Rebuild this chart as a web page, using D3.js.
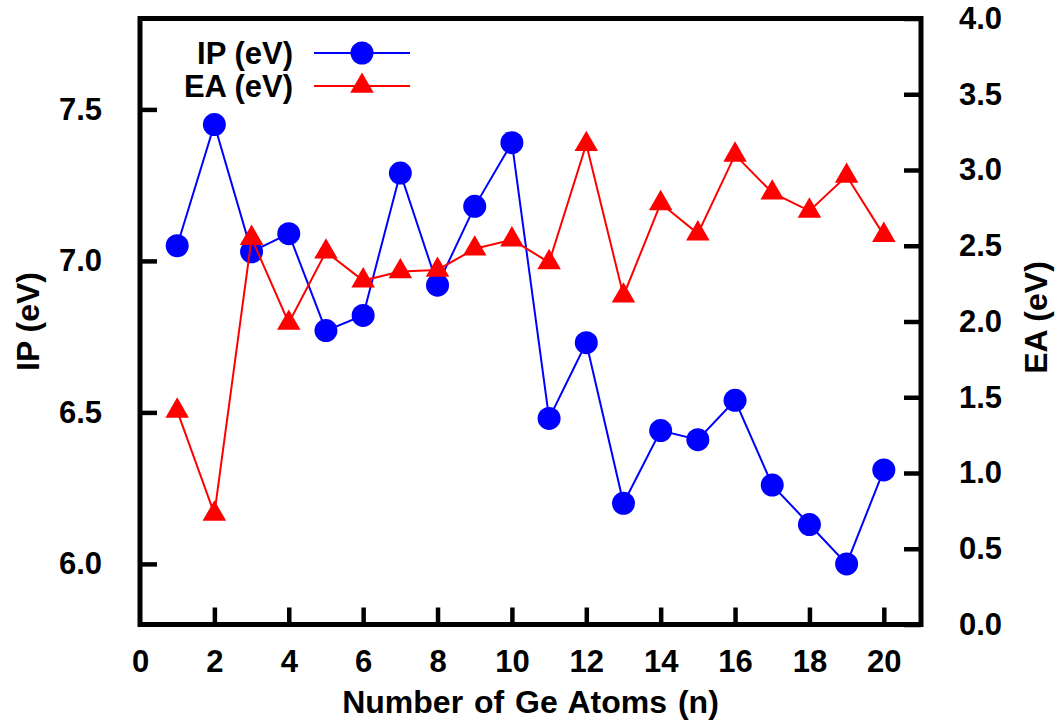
<!DOCTYPE html>
<html>
<head>
<meta charset="utf-8">
<script src="https://cdn.jsdelivr.net/npm/d3@7"></script>
<style>
  html, body { margin: 0; padding: 0; background: #fff; }
  svg text { font-family: "Liberation Sans", Arial, Helvetica, sans-serif; font-weight: bold; fill: #000; }
</style>
</head>
<body>
<svg id="chart" width="1055" height="725"></svg>
<script>
// Cluster size n (number of Ge atoms)
const atoms = [1, 2, 3, 4, 5, 6, 7, 8, 9, 10, 11, 12, 13, 14, 15, 16, 17, 18, 19, 20];
// Ionization potential (eV), left axis
const ipValues = [7.05, 7.45, 7.03, 7.09, 6.77, 6.82, 7.29, 6.92, 7.18, 7.39,
                  6.48, 6.73, 6.20, 6.44, 6.41, 6.54, 6.26, 6.13, 6.00, 6.31];
// Electron affinity (eV), right axis
const eaValues = [1.41, 0.73, 2.55, 1.99, 2.46, 2.27, 2.33, 2.34, 2.48, 2.54,
                  2.39, 3.17, 2.17, 2.78, 2.58, 3.10, 2.85, 2.73, 2.96, 2.57];

const xTicks = [0, 2, 4, 6, 8, 10, 12, 14, 16, 18, 20];
const ipTicks = [6.0, 6.5, 7.0, 7.5];
const eaTicks = [0.0, 0.5, 1.0, 1.5, 2.0, 2.5, 3.0, 3.5, 4.0];

const svg = d3.select("#chart");
const plotLeft = 140, plotRight = 921, plotTop = 18.5, plotBottom = 624.5;

const x = d3.scaleLinear().domain([0, 21]).range([plotLeft, plotRight]);
const yIP = d3.scaleLinear().domain([5.8, 7.8]).range([plotBottom, plotTop]);
const yEA = d3.scaleLinear().domain([0, 4]).range([plotBottom, plotTop]);

const fontSize = 31;
const tickLen = 17;

// Bottom axis: inward ticks, labels below
const xAxis = d3.axisBottom(x).tickValues(xTicks).tickSizeInner(-tickLen).tickSizeOuter(0)
  .tickPadding(tickLen + 8).tickFormat(d3.format("d"));
const gx = svg.append("g").attr("transform", `translate(0,${plotBottom})`).call(xAxis);
gx.selectAll(".tick line").filter(d => d === 0).remove();

// Left axis (IP)
const yAxisL = d3.axisLeft(yIP).tickValues(ipTicks).tickSizeInner(-tickLen).tickSizeOuter(0)
  .tickPadding(tickLen + 21).tickFormat(d3.format(".1f"));
const gl = svg.append("g").attr("transform", `translate(${plotLeft},0)`).call(yAxisL);

// Right axis (EA)
const yAxisR = d3.axisRight(yEA).tickValues(eaTicks).tickSizeInner(-tickLen).tickSizeOuter(0)
  .tickPadding(tickLen + 21).tickFormat(d3.format(".1f"));
const gr = svg.append("g").attr("transform", `translate(${plotRight},0)`).call(yAxisR);

[gx, gl, gr].forEach(g => {
  g.select(".domain").remove();
  g.selectAll(".tick line").attr("stroke", "#000").attr("stroke-width", 4.5);
  g.selectAll(".tick text").attr("font-size", fontSize).attr("fill", "#000")
    .style("font-family", "'Liberation Sans', Arial, sans-serif").style("font-weight", "bold");
});
gx.selectAll(".tick text").attr("dy", "0.71em");

// Frame
svg.append("rect")
  .attr("x", plotLeft).attr("y", plotTop)
  .attr("width", plotRight - plotLeft).attr("height", plotBottom - plotTop)
  .attr("fill", "none").attr("stroke", "#000").attr("stroke-width", 5);

// Axis titles
const titleSize = 32;
svg.append("text")
  .attr("x", (plotLeft + plotRight) / 2).attr("y", 713)
  .attr("text-anchor", "middle").attr("font-size", titleSize)
  .style("word-spacing", "2px")
  .text("Number of Ge Atoms (n)");

svg.append("text")
  .attr("transform", `translate(39,${(plotTop + plotBottom) / 2}) rotate(-90)`)
  .attr("text-anchor", "middle").attr("font-size", titleSize)
  .text("IP (eV)");

svg.append("text")
  .attr("transform", `translate(1047,${(plotTop + plotBottom) / 2 - 4}) rotate(-90)`)
  .attr("text-anchor", "middle").attr("font-size", titleSize)
  .text("EA (eV)");

const ipData = atoms.map((n, i) => ({ n, v: ipValues[i] }));
const eaData = atoms.map((n, i) => ({ n, v: eaValues[i] }));

const blue = "#0000ff", red = "#ff0000";
const circleR = 11.5;
const triSym = d3.symbol().type(d3.symbolTriangle).size(240);

// IP series: line + filled circles
svg.append("path").datum(ipData)
  .attr("fill", "none").attr("stroke", blue).attr("stroke-width", 2)
  .attr("d", d3.line().x(d => x(d.n)).y(d => yIP(d.v)));
svg.append("g").selectAll("circle").data(ipData).join("circle")
  .attr("cx", d => x(d.n)).attr("cy", d => yIP(d.v)).attr("r", circleR).attr("fill", blue);

// EA series: line + filled triangles
svg.append("path").datum(eaData)
  .attr("fill", "none").attr("stroke", red).attr("stroke-width", 2)
  .attr("d", d3.line().x(d => x(d.n)).y(d => yEA(d.v)));
svg.append("g").selectAll("path.tri").data(eaData).join("path")
  .attr("class", "tri")
  .attr("transform", d => `translate(${x(d.n)},${yEA(d.v)})`)
  .attr("d", triSym).attr("fill", red);

// Legend
const legend = [
  { label: "IP (eV)", color: blue, shape: "circle", y: 53 },
  { label: "EA (eV)", color: red, shape: "triangle", y: 86 }
];
const lg = svg.append("g");
legend.forEach(item => {
  lg.append("text").attr("x", 293).attr("y", item.y + 11)
    .attr("text-anchor", "end").attr("font-size", fontSize).text(item.label);
  lg.append("line").attr("x1", 314).attr("x2", 410).attr("y1", item.y).attr("y2", item.y)
    .attr("stroke", item.color).attr("stroke-width", 2);
  if (item.shape === "circle") {
    lg.append("circle").attr("cx", 362).attr("cy", item.y).attr("r", circleR).attr("fill", item.color);
  } else {
    lg.append("path").attr("transform", `translate(362,${item.y})`).attr("d", triSym).attr("fill", item.color);
  }
});
</script>
</body>
</html>
